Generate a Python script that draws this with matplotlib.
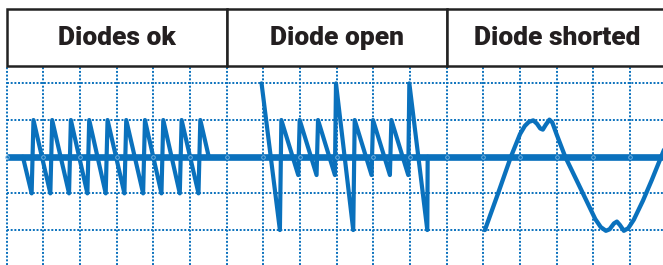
import matplotlib
matplotlib.use("Agg")
import matplotlib.pyplot as plt
from matplotlib.patches import Rectangle

# scope traces, x/y in grid divisions (0 = first grid line / centre line)
ok_x = [0.44, 0.68, 0.73, 1.19, 1.24, 1.70, 1.75, 2.20, 2.25, 2.70, 2.75,
        3.21, 3.26, 3.72, 3.77, 4.22, 4.27, 4.72, 4.77, 5.23, 5.28, 5.51]
ok_y = [0, -1, 1, -1, 1, -1, 1, -1, 1, -1, 1,
        -1, 1, -1, 1, -1, 1, -1, 1, -1, 1, 0]

open_x = [6.95, 7.45, 7.49, 7.95, 7.99, 8.45, 8.49, 8.95, 8.98, 9.45,
          9.49, 9.95, 9.99, 10.45, 10.49, 10.95, 10.98, 11.47, 11.48]
open_y = [2, -2, 1, -0.5, 1, -0.5, 1, -0.5, 2, -2,
          1, -0.5, 1, -0.5, 1, -0.5, 2, -2, 0]

short_x = [13.04, 13.40, 13.75, 14.00, 14.13, 14.24, 14.36, 14.46, 14.55,
           14.62, 14.70, 14.80, 14.88, 15.00, 15.23, 15.54, 15.80, 16.05,
           16.20, 16.34, 16.44, 16.56, 16.64, 16.72, 16.83, 16.95, 17.10,
           17.35, 17.59, 17.95]
short_y = [-2.0, -1.0, 0.0, 0.62, 0.84, 0.95, 0.99, 0.90, 0.77,
           0.74, 0.87, 1.01, 0.93, 0.60, 0.0, -0.64, -1.18, -1.70,
           -1.92, -2.02, -1.98, -1.82, -1.77, -1.86, -2.02, -1.95, -1.72,
           -1.20, -0.64, 0.25]

headers = ["Diodes ok", "Diode open", "Diode shorted"]
header_left = [0, 6, 12]
header_width = [6, 6, 6.6]

grid_x = list(range(18))
grid_y = [-2, -1, 1, 2]

blue = "#0a71bd"
px = 36.67  # pixels per division in the original

fig = plt.figure(figsize=(6.63, 2.65), dpi=100)
ax = fig.add_axes([0, 0, 1, 1])
x0, y0 = 6.7, 156.7
ax.set_xlim(-x0 / px, (663 - x0) / px)
ax.set_ylim(-(265 - y0) / px, y0 / px)
ax.axis("off")

head_bot, head_top = 2.48, 4.02
ymin = ax.get_ylim()[0]
xmax = ax.get_xlim()[1]

# dotted grid
dot = dict(color=blue, lw=1.4, dashes=(1.0, 0.9), zorder=1)
for gx in grid_x:
    ax.plot([gx, gx], [ymin, head_bot], **dot)
for gy in grid_y:
    ax.plot([0, xmax], [gy, gy], **dot)

# thick centre line
ax.plot([0, xmax], [0, 0], color=blue, lw=4.8, solid_capstyle="butt", zorder=2)
ax.plot(grid_x, [0] * len(grid_x), ls="none", marker="o", ms=2.6,
        mfc="none", mec="#7db7e3", mew=0.6, zorder=4)

# traces
for xs, ys, lw in [(ok_x, ok_y, 3.0), (open_x, open_y, 3.0), (short_x, short_y, 3.1)]:
    ax.plot(xs, ys, color=blue, lw=lw, solid_joinstyle="round",
            solid_capstyle="round", zorder=3)

# header boxes
for name, left, w in zip(headers, header_left, header_width):
    ax.add_patch(Rectangle((left, head_bot), w, head_top - head_bot,
                           facecolor="white", edgecolor="#222222", lw=1.8,
                           zorder=5, clip_on=False))
    ax.text(left + 3.0, 3.04, name, ha="center", va="baseline",
            fontsize=19, fontweight="heavy", family=["Roboto", "DejaVu Sans"],
            color="#231f20", zorder=6)

fig.savefig("out.png", dpi=100)
